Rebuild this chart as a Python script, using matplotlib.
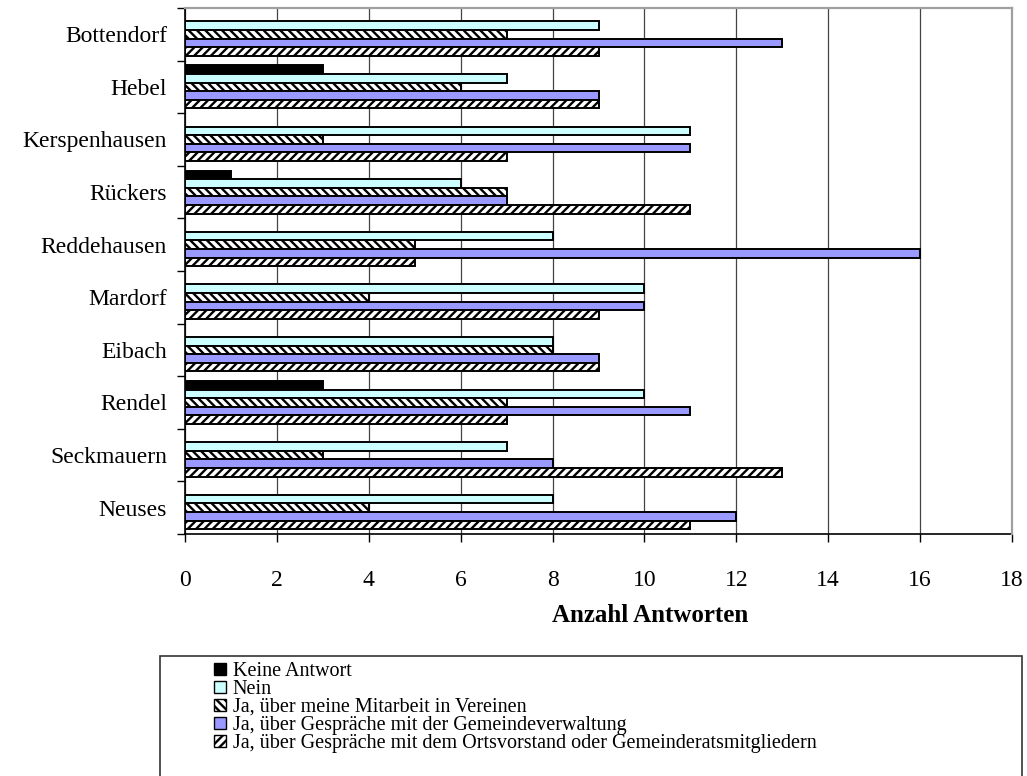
import matplotlib
matplotlib.use("Agg")
import matplotlib.pyplot as plt
from matplotlib.patches import Patch, Rectangle
import numpy as np

plt.rcParams['font.family'] = ['Liberation Serif', 'DejaVu Serif']
plt.rcParams['hatch.linewidth'] = 1.7

categories = ["Bottendorf", "Hebel", "Kerspenhausen", "Rückers", "Reddehausen",
              "Mardorf", "Eibach", "Rendel", "Seckmauern", "Neuses"]
series_names = ["Keine Antwort", "Nein", "Ja, über meine Mitarbeit in Vereinen",
                "Ja, über Gespräche mit der Gemeindeverwaltung",
                "Ja, über Gespräche mit dem Ortsvorstand oder Gemeinderatsmitgliedern"]
keine_antwort = [0, 3, 0, 1, 0, 0, 0, 3, 0, 0]
nein = [9, 7, 11, 6, 8, 10, 8, 10, 7, 8]
vereine = [7, 6, 3, 7, 5, 4, 8, 7, 3, 4]
gemeindeverwaltung = [13, 9, 11, 7, 16, 10, 9, 11, 8, 12]
ortsvorstand = [9, 9, 7, 11, 5, 9, 9, 7, 13, 11]
x_ticks = [0, 2, 4, 6, 8, 10, 12, 14, 16, 18]
x_label = "Anzahl Antworten"

series = [keine_antwort, nein, vereine, gemeindeverwaltung, ortsvorstand]
faces = ["black", "#CCFFFF", "white", "#9999FF", "white"]
hatches = [None, None, "\\\\\\\\", None, "////"]

W, H = 1027, 776
fig = plt.figure(figsize=(W / 100, H / 100), dpi=100)
ax = fig.add_axes([185 / W, 1 - 534 / H, (1012 - 185) / W, (534 - 8) / H])

y = np.arange(len(categories))
h = 0.164
for k, vals in enumerate(series):
    vals = np.array(vals, dtype=float)
    mask = vals > 0
    ax.barh(y[mask] + (k - 2) * h, vals[mask], height=h, color=faces[k],
            edgecolor="black", linewidth=1.4, hatch=hatches[k], zorder=3)

ax.set_xlim(0, 18)
ax.set_ylim(len(categories) - 0.5, -0.5)
ax.set_xticks(x_ticks)
ax.set_xticklabels([str(t) for t in x_ticks], fontsize=17)
ax.set_yticks(y)
ax.set_yticklabels(categories, fontsize=17)
ax.set_yticks(np.arange(len(categories) + 1) - 0.5, minor=True)
ax.tick_params(axis='y', which='major', length=0, pad=13)
ax.tick_params(axis='y', which='minor', length=6, width=1, direction='out')
ax.tick_params(axis='x', which='major', length=6, width=1, direction='out', pad=20)
ax.xaxis.grid(True, color="#444444", linewidth=0.9, zorder=0)
ax.set_axisbelow(True)
for s in ["left", "bottom"]:
    ax.spines[s].set_color("black")
    ax.spines[s].set_linewidth(1.2)
for s in ["top", "right"]:
    ax.spines[s].set_color("#A0A0A0")
    ax.spines[s].set_linewidth(1.6)
    ax.spines[s].set_zorder(4)

fig.text(650 / W, 1 - 615 / H, x_label, fontsize=18, fontweight="bold",
         ha="center", va="center")

# legend box
fig.patches.append(Rectangle((160 / W, -0.01), (1022 - 160) / W, 0.01 + (776 - 656) / H,
                             transform=fig.transFigure, facecolor="white",
                             edgecolor="#333333", linewidth=1.2))
handles = [Patch(facecolor=faces[k], edgecolor="black", hatch=hatches[k], linewidth=1.0)
           for k in range(len(series))]
fig.legend(handles, series_names, loc="upper left",
           bbox_to_anchor=(214 / W, 1 - 662 / H), frameon=False, fontsize=14.5,
           handlelength=0.58, handleheight=0.58, handletextpad=0.35,
           labelspacing=-0.05, borderpad=0, borderaxespad=0)

fig.savefig("out.png", dpi=100)
